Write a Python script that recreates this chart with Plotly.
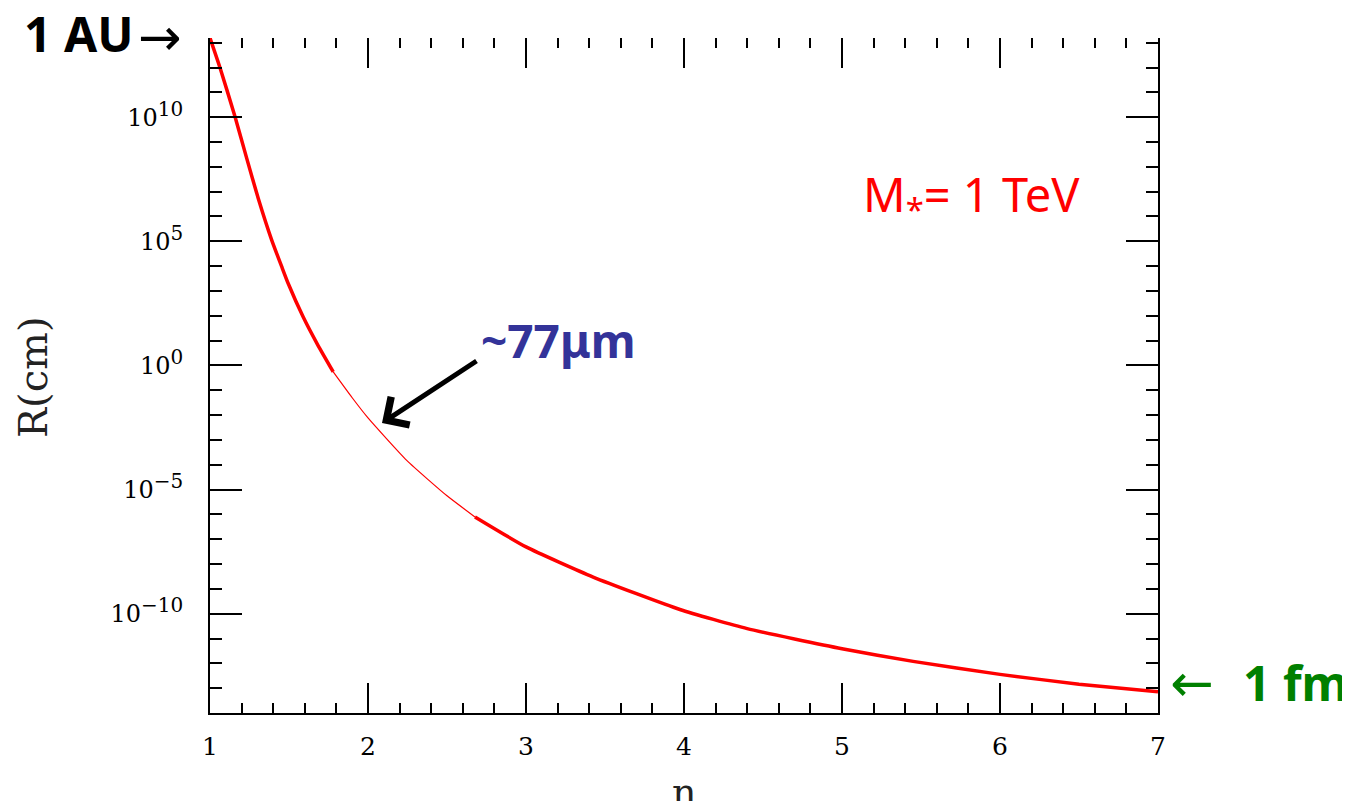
import plotly.graph_objects as go

# ---- data ----
n_vals = [1.0, 1.063, 1.158, 1.232, 1.306, 1.39, 1.454, 1.495, 1.59, 1.68, 1.78,
          1.9, 2.0, 2.245, 2.5, 2.677, 3.0, 3.425, 3.974, 4.4, 5.0, 5.45, 6.0, 6.5, 7.0]
R_cm = [1.55e13, 1.0e12, 1.07e10, 2.24e8, 5.2e6, 1.15e5, 9.5e3, 2.0e3, 89.0, 7.1, 0.55,
        0.050, 7.7e-3, 1.5e-4, 5.6e-6, 7.9e-7, 4.9e-8, 3.0e-9, 1.48e-10, 2.5e-11,
        3.9e-12, 1.2e-12, 3.6e-13, 1.45e-13, 7.1e-14]
thin_start, thin_end = 10, 15   # indices where the curve is drawn thin

x_ticks = [1, 2, 3, 4, 5, 6, 7]
y_tickvals = [1e-10, 1e-5, 1, 1e5, 1e10]
y_exps = ["\u221210", "\u22125", "0", "5", "10"]
y_ticktext = ["10<sup><span style='font-size:20px'>%s</span></sup>" % e for e in y_exps]
y_minor = [10.0 ** k for k in range(-14, 14)]

# the page body has an 8px margin; figure coords = page coords - OFF
OFF = 8
W, H = 1350, 801
PLOT_L, PLOT_R, PLOT_T, PLOT_B = 210, 1158, 38, 713   # page pixels of the plot box
L, T = PLOT_L - OFF, PLOT_T - OFF
PW, PH = PLOT_R - PLOT_L, PLOT_B - PLOT_T
R, B = W - L - PW, H - T - PH


def px(x):
    return (x - PLOT_L) / PW


def py(y):
    return (PLOT_B - y) / PH


RED = "#ff0000"
fig = go.Figure()
segs = [(0, thin_start + 1, 3.5), (thin_start, thin_end + 1, 1.2), (thin_end, len(n_vals), 3.5)]
for a, b, w in segs:
    fig.add_trace(go.Scatter(x=n_vals[a:b], y=R_cm[a:b], mode="lines",
                             line=dict(color=RED, width=w, shape="spline", smoothing=0.5),
                             showlegend=False, hoverinfo="skip"))
# invisible trace to activate the top tick axis
fig.add_trace(go.Scatter(x=[1, 7], y=[1, 1], xaxis="x2", mode="lines",
                         line=dict(width=0), showlegend=False, hoverinfo="skip"))

tickfont = dict(family="DejaVu Serif", size=25, color="black")
minor_x = dict(dtick=0.2, tick0=1, ticks="inside", ticklen=10, tickwidth=2, tickcolor="black")

fig.update_layout(
    width=W, height=H,
    margin=dict(l=L, r=R, t=T, b=B, pad=0),
    paper_bgcolor="white", plot_bgcolor="white",
    xaxis=dict(range=[1, 7], tickvals=x_ticks, ticks="inside", ticklen=30, tickwidth=2,
               tickcolor="black", showline=True, linecolor="black", linewidth=2,
               showgrid=False, zeroline=False, mirror=False, tickfont=tickfont,
               ticklabelstandoff=10, minor=minor_x),
    xaxis2=dict(range=[1, 7], overlaying="x", side="top", tickvals=x_ticks,
                ticks="inside", ticklen=30, tickwidth=2, tickcolor="black",
                showline=False, showgrid=False, zeroline=False, showticklabels=False,
                minor=minor_x),
    yaxis=dict(type="log", range=[-14, 13.19], tickvals=y_tickvals, ticktext=y_ticktext,
               ticks="inside", ticklen=32, tickwidth=2, tickcolor="black",
               showline=True, linecolor="black", linewidth=2, mirror="ticks",
               showgrid=False, zeroline=False,
               tickfont=dict(family="DejaVu Serif", size=24, color="black"),
               ticklabelstandoff=20,
               minor=dict(tickmode="array", tickvals=y_minor, ticks="inside",
                          ticklen=12, tickwidth=2, tickcolor="black")),
)

ann = []
ann.append(dict(text="R(cm)", x=px(33), y=py(377), textangle=-90,
                font=dict(family="DejaVu Serif", size=40, color="#222")))
ann.append(dict(text="n", x=px(684), y=py(792),
                font=dict(family="DejaVu Serif", size=38, color="#222")))
ann.append(dict(text="<b>1 AU</b>", x=px(78), y=py(33),
                font=dict(family="Noto Sans", size=48, color="black")))
ann.append(dict(text="\u2192", x=px(160), y=py(37),
                font=dict(family="DejaVu Sans", size=52, color="black")))
ann.append(dict(text="M<sub>*</sub>= 1 TeV", x=px(971), y=py(197),
                font=dict(family="Noto Sans", size=47, color=RED)))
ann.append(dict(text="<b>~77\u03bcm</b>", x=px(558), y=py(340),
                font=dict(family="Noto Sans", size=46, color="#333399")))
ann.append(dict(text="\u2190", x=px(1192), y=py(683),
                font=dict(family="DejaVu Sans", size=52, color="#008000")))
ann.append(dict(text="<b>1 fm</b>", x=px(1295), y=py(682),
                font=dict(family="Noto Sans", size=48, color="#008000")))
for a in ann:
    a.update(xref="paper", yref="paper", showarrow=False, xanchor="center", yanchor="middle")

# black arrow pointing to the curve near n = 2
ann.append(dict(x=px(382), y=py(423), xref="paper", yref="paper",
                ax=478 - 382, ay=360 - 423, axref="pixel", ayref="pixel",
                showarrow=True, arrowhead=4, arrowsize=1.3, arrowwidth=5,
                arrowcolor="black", text=""))
fig.update_layout(annotations=ann)

fig.write_html("out.html")
